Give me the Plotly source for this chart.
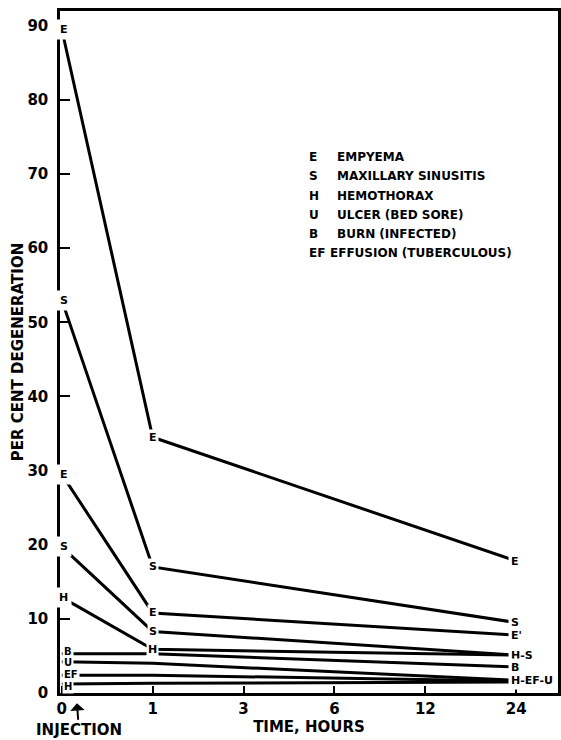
import plotly.graph_objects as go

# ---- data ----
time_categories = ["0", "1", "3", "6", "12", "24"]
sample_times = ["0", "1", "24"]

empyema_a = [89.5, 34.5, 17.8]
sinusitis_a = [53.0, 17.0, 9.5]
empyema_b = [29.5, 10.8, 7.8]
sinusitis_b = [19.7, 8.3, 5.1]
hemothorax_a = [12.9, 5.9, 5.1]
burn = [5.3, 5.3, 3.5]
ulcer = [4.2, 4.0, 1.7]
effusion = [2.4, 2.4, 1.6]
hemothorax_b = [1.2, 1.3, 1.5]

series_values = [empyema_a, sinusitis_a, empyema_b, sinusitis_b, hemothorax_a,
                 burn, ulcer, effusion, hemothorax_b]
labels_0h = ["E", "S", "E", "S", "H", "B", "U", "EF", "H"]
labels_1h = ["E", "S", "E", "S", "H", "", "", "", ""]
labels_24h = ["E", "S", "E'", "H-S", "", "B", "H-EF-U", "", ""]

legend_codes = ["E", "S", "H", "U", "B", "EF"]
legend_names = ["EMPYEMA", "MAXILLARY SINUSITIS", "HEMOTHORAX",
                "ULCER (BED SORE)", "BURN (INFECTED)", "EFFUSION (TUBERCULOUS)"]

y_ticks = [0, 10, 20, 30, 40, 50, 60, 70, 80, 90]

FONT = "DejaVu Sans"
INK = "black"

fig = go.Figure()
for vals in series_values:
    fig.add_trace(go.Scatter(x=sample_times, y=vals, mode="lines",
                             line=dict(color=INK, width=3), showlegend=False,
                             hoverinfo="skip"))

# index positions of the sampled times on the category axis
idx = [time_categories.index(t) for t in sample_times]

# small label nudges so the packed labels near zero stay legible
label_nudge_0h = [0, 0, 0, 0, 0, 2, -1, 1, -2]

annotations = []
lab_font = dict(family=FONT, size=11, color=INK, weight="bold")
small_font = dict(family=FONT, size=10, color=INK, weight="bold")
for k, (vals, l0, l1, l24) in enumerate(zip(series_values, labels_0h, labels_1h, labels_24h)):
    if l0:
        flat = abs(vals[0] - vals[1]) < 1
        annotations.append(dict(x=idx[0], y=vals[0], xref="x", yref="y",
                                text=l0, showarrow=False,
                                xanchor="left" if flat else "center",
                                xshift=0 if flat else 2, yshift=label_nudge_0h[k],
                                font=small_font if flat else lab_font, bgcolor="white",
                                borderpad=1 if flat else 3))
    if l1:
        annotations.append(dict(x=idx[1], y=vals[1], xref="x", yref="y",
                                text=l1, showarrow=False, xanchor="center",
                                font=lab_font, bgcolor="white", borderpad=1))
    if l24:
        annotations.append(dict(x=idx[2], y=vals[2], xref="x", yref="y",
                                text=l24, showarrow=False, xanchor="left", xshift=-8,
                                font=lab_font, bgcolor="white", borderpad=2))

# legend key text
leg_font = dict(family=FONT, size=12, color=INK, weight="bold")
for i, (code, name) in enumerate(zip(legend_codes, legend_names)):
    yy = 0.786 - i * 0.0283
    annotations.append(dict(x=0.495, y=yy, xref="paper", yref="paper", text=code,
                            showarrow=False, xanchor="left", yanchor="middle", font=leg_font))
    nx = 0.553 if len(code) == 1 else 0.539
    annotations.append(dict(x=nx, y=yy, xref="paper", yref="paper", text=name,
                            showarrow=False, xanchor="left", yanchor="middle", font=leg_font))

# injection arrow
annotations.append(dict(x=0.034, y=-0.015, xref="paper", yref="paper",
                        text="INJECTION", showarrow=True, ax=2, ay=27,
                        arrowhead=1, arrowsize=1.2, arrowwidth=2, arrowcolor=INK,
                        font=dict(family=FONT, size=15, color=INK, weight="bold")))

fig.update_layout(
    width=561, height=740,
    margin=dict(l=60, r=3, t=11, b=47),
    paper_bgcolor="white", plot_bgcolor="white",
    annotations=annotations,
    showlegend=False,
    font=dict(family=FONT, color=INK),
)

fig.update_xaxes(
    type="category", categoryorder="array", categoryarray=time_categories,
    range=[-0.02, 5.46], automargin=False,
    showline=True, linecolor=INK, linewidth=2.5, mirror=True,
    ticks="inside", ticklen=7, tickwidth=2, tickcolor=INK,
    showgrid=False, zeroline=False,
    tickfont=dict(family=FONT, size=15, color=INK, weight="bold"),
    title=dict(text="TIME, HOURS", standoff=3,
               font=dict(family=FONT, size=15, color=INK, weight="bold")),
)
fig.update_yaxes(
    range=[0, 92], tickvals=y_ticks, automargin=False,
    showline=True, linecolor=INK, linewidth=2.5, mirror=True,
    ticks="inside", ticklen=10, tickwidth=2, tickcolor=INK,
    showgrid=False, zeroline=False, ticklabelstandoff=6,
    tickfont=dict(family=FONT, size=15, color=INK, weight="bold"),
    title=dict(text="PER CENT DEGENERATION", standoff=1,
               font=dict(family=FONT, size=15, color=INK, weight="bold")),
)

fig.write_html("out.html", config={"displayModeBar": False},
               post_script="document.body.style.margin='0';document.body.style.overflow='hidden';")
